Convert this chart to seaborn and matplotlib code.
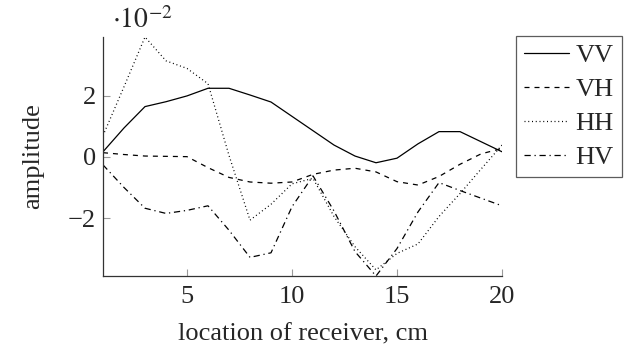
import matplotlib
matplotlib.use("Agg")
import matplotlib.pyplot as plt
import seaborn as sns
import pandas as pd

sns.set_style("ticks")
plt.rcParams["font.family"] = ["Liberation Serif", "DejaVu Serif"]
plt.rcParams["mathtext.fontset"] = "stix"

# amplitude values, in units of 1e-2
x = list(range(1, 21))
vv = [0.17, 0.95, 1.65, 1.81, 2.00, 2.25, 2.25, 2.03, 1.80, 1.33,
      0.86, 0.39, 0.03, -0.19, -0.04, 0.43, 0.83, 0.83, 0.50, 0.17]
vh = [0.14, 0.08, 0.03, 0.02, 0.01, -0.35, -0.67, -0.82, -0.86, -0.82,
      -0.57, -0.43, -0.37, -0.49, -0.81, -0.92, -0.64, -0.24, 0.10, 0.28]
hh = [0.70, 2.30, 3.93, 3.15, 2.90, 2.40, 0.05, -2.07, -1.55, -0.88,
      -0.70, -1.95, -2.94, -3.70, -3.16, -2.85, -1.95, -1.20, -0.40, 0.39]
hv = [-0.26, -1.00, -1.68, -1.85, -1.75, -1.60, -2.40, -3.29, -3.14, -1.63,
      -0.62, -1.77, -3.10, -3.90, -3.00, -1.80, -0.84, -1.10, -1.35, -1.60]

series = {"VV": (vv, "-"), "VH": (vh, (0, (4, 4))),
          "HH": (hh, (0, (0.8, 2.2))), "HV": (hv, (0, (5, 3, 1, 3)))}

FS = 19

fig = plt.figure(figsize=(6.41, 3.47), dpi=100)
ax = fig.add_axes([103 / 641, 1 - 276 / 347, 399 / 641, 239 / 347])

for name, (vals, ls) in series.items():
    df = pd.DataFrame({"x": x, "y": vals})
    sns.lineplot(data=df, x="x", y="y", ax=ax, color="black", lw=0.9,
                 linestyle=ls, label=name, legend=False)

allv = vv + vh + hh + hv
ax.set_xlim(min(x), max(x))
ax.set_ylim(min(allv), max(allv))
ax.set_xticks([5, 10, 15, 20])
ax.set_yticks([-2, 0, 2])
ax.tick_params(direction="in", length=5, width=0.8, color="#9a9a9a",
               labelsize=FS, pad=5)
ax.tick_params(axis="x", pad=7)
for s in ["top", "right"]:
    ax.spines[s].set_visible(False)
for s in ["left", "bottom"]:
    ax.spines[s].set_color("#333333")
    ax.spines[s].set_linewidth(0.9)

ax.set_xlabel("location of receiver, cm", fontsize=FS, labelpad=11)
ax.set_ylabel("amplitude", fontsize=FS, labelpad=17)
fig.text(112 / 641, 1 - 28 / 347, r"$\cdot 10^{-2}$", fontsize=20,
         va="baseline", ha="left")

handles, labels = ax.get_legend_handles_labels()
leg = fig.legend(handles, labels, loc="upper left",
                 bbox_to_anchor=(516 / 641, 1 - 36 / 347), fontsize=FS,
                 frameon=True, fancybox=False, handlelength=1.7,
                 handletextpad=0.25, labelspacing=0.4, borderpad=0.3,
                 borderaxespad=0)
leg.get_frame().set_edgecolor("#333333")
leg.get_frame().set_linewidth(0.9)

fig.savefig("out.png", dpi=100)
